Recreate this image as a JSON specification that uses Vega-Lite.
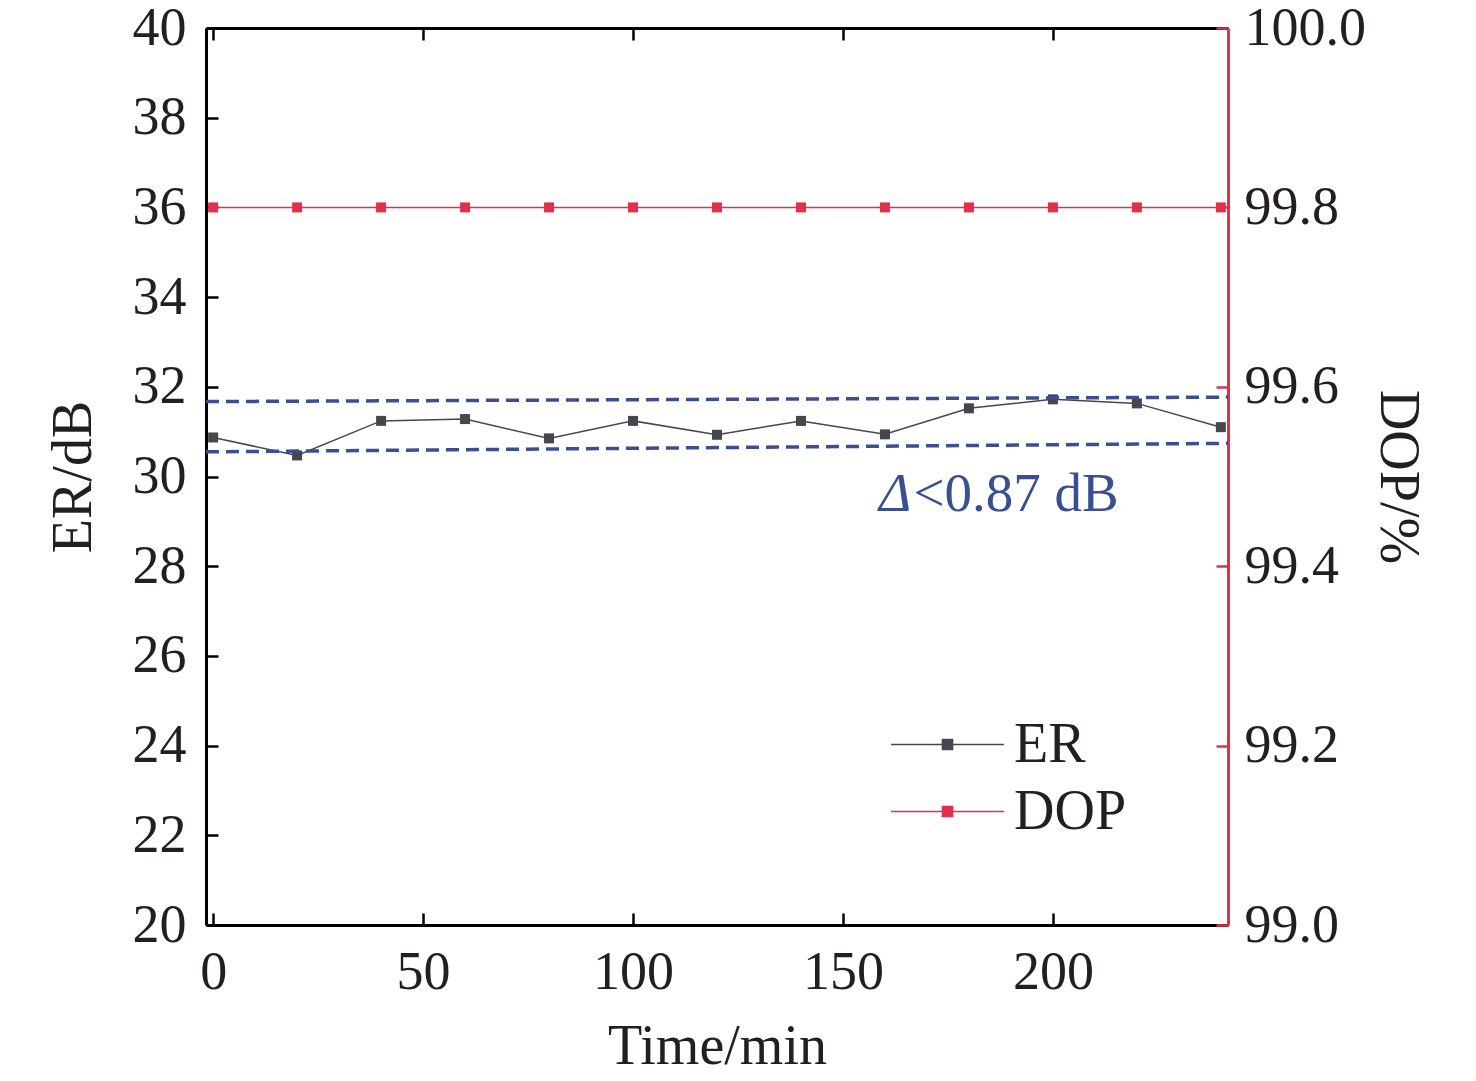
{
  "$schema": "https://vega.github.io/schema/vega-lite/v6.json",
  "width": 1022,
  "height": 897,
  "autosize": {"type": "none"},
  "padding": {"left": 206, "top": 28, "right": 248, "bottom": 156},
  "background": "white",
  "config": {
    "view": {"stroke": null},
    "font": "Liberation Serif",
    "axis": {
      "grid": false,
      "labelFontSize": 54,
      "titleFontSize": 56,
      "titleFontWeight": "normal",
      "labelColor": "#231f20",
      "titleColor": "#231f20",
      "domainColor": "black",
      "domainWidth": 3,
      "tickColor": "black",
      "tickWidth": 2.5,
      "tickSize": -12,
      "labelPadding": 32
    }
  },
  "layer": [
    {
      "layer": [
        {
          "data": {
            "values": [
              {"time": 0, "value": 30.87, "series": "ER"},
              {"time": 20, "value": 30.47, "series": "ER"},
              {"time": 40, "value": 31.24, "series": "ER"},
              {"time": 60, "value": 31.28, "series": "ER"},
              {"time": 80, "value": 30.85, "series": "ER"},
              {"time": 100, "value": 31.24, "series": "ER"},
              {"time": 120, "value": 30.93, "series": "ER"},
              {"time": 140, "value": 31.24, "series": "ER"},
              {"time": 160, "value": 30.94, "series": "ER"},
              {"time": 180, "value": 31.52, "series": "ER"},
              {"time": 200, "value": 31.72, "series": "ER"},
              {"time": 220, "value": 31.63, "series": "ER"},
              {"time": 240, "value": 31.1, "series": "ER"}
            ]
          },
          "mark": {
            "type": "line",
            "strokeWidth": 1.5,
            "point": {"shape": "square", "size": 100, "filled": true, "opacity": 1}
          },
          "encoding": {
            "x": {
              "field": "time",
              "type": "quantitative",
              "scale": {"domain": [-1.7, 241.7], "nice": false, "zero": false},
              "axis": {"orient": "bottom", "values": [0, 50, 100, 150, 200], "title": "Time/min", "titlePadding": 20}
            },
            "y": {
              "field": "value",
              "type": "quantitative",
              "scale": {"domain": [20, 40], "nice": false, "zero": false},
              "axis": {
                "orient": "left",
                "values": [20, 22, 24, 26, 28, 30, 32, 34, 36, 38, 40],
                "title": "ER/dB",
                "titlePadding": 30
              }
            },
            "color": {
              "field": "series",
              "type": "nominal",
              "scale": {"domain": ["ER", "DOP"], "range": ["#45474e", "#e0304a"]},
              "legend": {
                "orient": "none",
                "legendX": 684,
                "legendY": 684,
                "padding": 0,
                "title": null,
                "symbolType": "M-1,0H1M-0.09,-0.09H0.09V0.09H-0.09Z",
                "symbolSize": 12769,
                "symbolStrokeWidth": 1.5,
                "clipHeight": 65,
                "labelFontSize": 56,
                "labelColor": "#231f20",
                "labelOffset": 9,
                "rowPadding": 2,
                "encode": {
                  "symbols": {
                    "update": {
                      "fill": {"scale": "color", "field": "value"},
                      "stroke": {"scale": "color", "field": "value"},
                      "opacity": {"value": 1}
                    }
                  }
                }
              }
            }
          }
        },
        {
          "data": {
            "values": [
              {"time": -1.7, "value": 31.67, "bound": "upper"},
              {"time": 241.7, "value": 31.77, "bound": "upper"},
              {"time": -1.7, "value": 30.55, "bound": "lower"},
              {"time": 241.7, "value": 30.74, "bound": "lower"}
            ]
          },
          "mark": {"type": "line", "color": "#3a4f8f", "strokeWidth": 3.5, "strokeDash": [13, 7]},
          "encoding": {
            "x": {"field": "time", "type": "quantitative"},
            "y": {"field": "value", "type": "quantitative"},
            "detail": {"field": "bound"}
          }
        },
        {
          "data": {"values": [{"time": 158.6, "value": 29.22, "label": "Δ"}]},
          "mark": {"type": "text", "align": "left", "baseline": "alphabetic", "fontSize": 55, "fontStyle": "italic", "color": "#3a4f8f"},
          "encoding": {
            "x": {"field": "time", "type": "quantitative"},
            "y": {"field": "value", "type": "quantitative"},
            "text": {"field": "label"}
          }
        },
        {
          "data": {"values": [{"time": 166.8, "value": 29.22, "label": "<0.87 dB"}]},
          "mark": {"type": "text", "align": "left", "baseline": "alphabetic", "fontSize": 55, "color": "#3a4f8f"},
          "encoding": {
            "x": {"field": "time", "type": "quantitative"},
            "y": {"field": "value", "type": "quantitative"},
            "text": {"field": "label"}
          }
        }
      ]
    },
    {
      "data": {
        "values": [
          {"time": 0, "value": 99.8, "series": "DOP"},
          {"time": 20, "value": 99.8, "series": "DOP"},
          {"time": 40, "value": 99.8, "series": "DOP"},
          {"time": 60, "value": 99.8, "series": "DOP"},
          {"time": 80, "value": 99.8, "series": "DOP"},
          {"time": 100, "value": 99.8, "series": "DOP"},
          {"time": 120, "value": 99.8, "series": "DOP"},
          {"time": 140, "value": 99.8, "series": "DOP"},
          {"time": 160, "value": 99.8, "series": "DOP"},
          {"time": 180, "value": 99.8, "series": "DOP"},
          {"time": 200, "value": 99.8, "series": "DOP"},
          {"time": 220, "value": 99.8, "series": "DOP"},
          {"time": 240, "value": 99.8, "series": "DOP"}
        ]
      },
      "mark": {
        "type": "line",
        "strokeWidth": 1.5,
        "point": {"shape": "square", "size": 100, "filled": true, "opacity": 1}
      },
      "encoding": {
        "x": {
          "field": "time",
          "type": "quantitative",
          "scale": {"domain": [-1.7, 241.7], "nice": false, "zero": false},
          "axis": {"orient": "top", "values": [0, 50, 100, 150, 200], "labels": false, "title": null}
        },
        "y": {
          "field": "value",
          "type": "quantitative",
          "scale": {"domain": [99, 100], "nice": false, "zero": false},
          "axis": {
            "orient": "right",
            "values": [99, 99.2, 99.4, 99.6, 99.8, 100],
            "format": ".1f",
            "title": "DOP/%",
            "titlePadding": 3,
            "domainColor": "#e0304a",
            "tickColor": "#e0304a",
            "labelPadding": 28
          }
        },
        "color": {"field": "series", "type": "nominal"}
      }
    }
  ],
  "resolve": {"scale": {"y": "independent"}, "axis": {"x": "independent"}}
}
